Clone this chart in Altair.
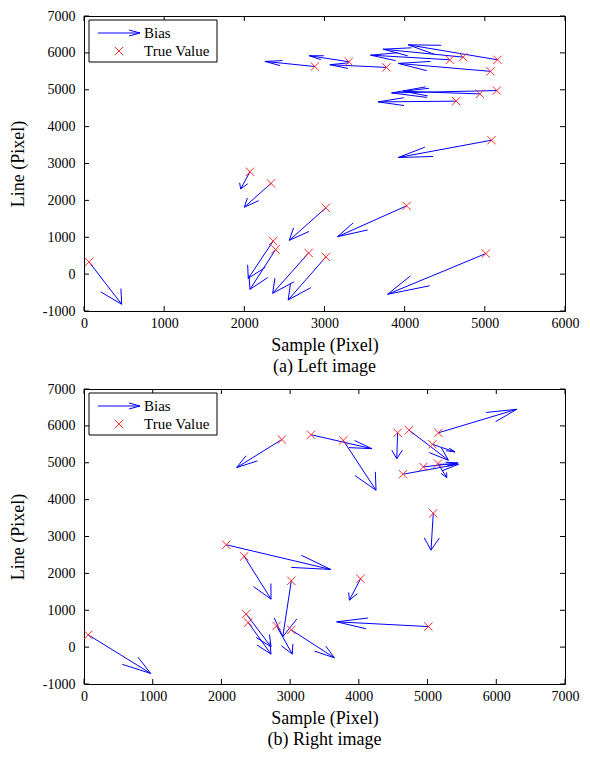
import altair as alt
import pandas as pd

# ---- data ----
true_x = [2880, 3304, 3773, 4564, 4730, 5158, 5071, 5150, 4938, 4642, 5083,
          2332, 2070, 3017, 2360, 2390, 2802, 3017, 62, 4024, 5012]
true_y = [5630, 5760, 5606, 5813, 5884, 5813, 5499, 4978, 4887, 4690, 3631,
          2461, 2776, 1798, 898, 666, 574, 466, 332, 1852, 558]

left_end_x = [2257, 2810, 3067, 3575, 3732, 4044, 3919, 3837, 3982, 3670, 3919,
              1999, 1954, 2560, 2049, 2070, 2353, 2547, 470, 3163, 3787]
left_end_y = [5768, 5922, 5679, 5938, 6100, 6218, 5714, 4914, 4960, 4671, 3162,
              1814, 2310, 916, -116, -412, -520, -701, -817, 1016, -547]

right_end_x = [2223, 4188, 4250, 4552, 5303, 6298, 5400, 5279, 5439, 5450, 5050,
               2722, 3591, 2892, 2722, 2722, 3032, 3644, 970, 3862, 3678]
right_end_y = [4870, 5382, 4255, 5108, 5068, 6450, 5293, 4599, 4995, 4960, 2629,
               1301, 2106, 279, 8, -190, -190, -290, -713, 1274, 686]

x_ticks_left = [0, 1000, 2000, 3000, 4000, 5000, 6000]
x_ticks_right = [0, 1000, 2000, 3000, 4000, 5000, 6000, 7000]
y_ticks = [-1000, 0, 1000, 2000, 3000, 4000, 5000, 6000, 7000]

FONT = "Liberation Serif"
BLUE = "#0000ff"
RED = "#ff2a2a"
XPATH = "M-1,-1L1,1M-1,1L1,-1"
W = 481
H = 295


def segments(ex, ey):
    # quiver-style arrows: shaft + two head barbs (computed in data units)
    alpha, beta = 0.33, 0.33
    rows = []
    for x, y, x1, y1 in zip(true_x, true_y, ex, ey):
        u, v = x1 - x, y1 - y
        rows.append(dict(x=x, y=y, x2=x1, y2=y1))
        rows.append(dict(x=x1, y=y1,
                         x2=x1 - alpha * (u + beta * v),
                         y2=y1 - alpha * (v - beta * u)))
        rows.append(dict(x=x1, y=y1,
                         x2=x1 - alpha * (u - beta * v),
                         y2=y1 - alpha * (v + beta * u)))
    return pd.DataFrame(rows)


def panel(ex, ey, xmax, xticks, title):
    seg = segments(ex, ey)
    pts = pd.DataFrame({"x": true_x, "y": true_y})
    xs = alt.Scale(domain=[0, xmax], nice=False, zero=False)
    ys = alt.Scale(domain=[-1000, 7000], nice=False, zero=False)
    xaxis = alt.Axis(values=xticks, labelExpr="'' + datum.value",
                     title="Sample (Pixel)", labelPadding=5, titlePadding=6)
    yaxis = alt.Axis(values=y_ticks, labelExpr="'' + datum.value",
                     title="Line (Pixel)", labelPadding=9, titlePadding=15)
    X = alt.X("x:Q", scale=xs, axis=xaxis)
    Y = alt.Y("y:Q", scale=ys, axis=yaxis)

    arrows = alt.Chart(seg).mark_rule(color=BLUE, strokeWidth=1).encode(
        x=X, y=Y, x2="x2:Q", y2="y2:Q")
    crosses = alt.Chart(pts).mark_point(
        shape=XPATH, size=70, color=RED, filled=False, strokeWidth=1, opacity=1
    ).encode(x=X, y=Y)

    xt = pd.DataFrame({"x": xticks})
    yt = pd.DataFrame({"y": y_ticks})
    tb = alt.Chart(xt).mark_rule(color="black").encode(
        x=X, y=alt.value(H), y2=alt.value(H - 5))
    tt = alt.Chart(xt).mark_rule(color="black").encode(
        x=X, y=alt.value(0), y2=alt.value(5))
    tl = alt.Chart(yt).mark_rule(color="black").encode(
        y=Y, x=alt.value(0), x2=alt.value(5))
    tr = alt.Chart(yt).mark_rule(color="black").encode(
        y=Y, x=alt.value(W - 5), x2=alt.value(W))

    one = pd.DataFrame({"k": [0]})
    box = alt.Chart(one).mark_rect(fill="white", stroke="black", strokeWidth=1).encode(
        x=alt.value(5), x2=alt.value(133), y=alt.value(4), y2=alt.value(46))
    l1 = alt.Chart(one).mark_rule(color=BLUE).encode(
        x=alt.value(14), x2=alt.value(56), y=alt.value(17), y2=alt.value(17))
    l2 = alt.Chart(one).mark_rule(color=BLUE).encode(
        x=alt.value(56), x2=alt.value(45), y=alt.value(17), y2=alt.value(14))
    l3 = alt.Chart(one).mark_rule(color=BLUE).encode(
        x=alt.value(56), x2=alt.value(45), y=alt.value(17), y2=alt.value(20))
    lx = alt.Chart(one).mark_point(
        shape=XPATH, size=70, color=RED, filled=False, strokeWidth=1, opacity=1
    ).encode(x=alt.value(35), y=alt.value(35))
    t1 = alt.Chart(one).mark_text(font=FONT, fontSize=15, align="left",
                                  baseline="middle", color="black").encode(
        x=alt.value(60), y=alt.value(17), text=alt.value("Bias"))
    t2 = alt.Chart(one).mark_text(font=FONT, fontSize=15, align="left",
                                  baseline="middle", color="black").encode(
        x=alt.value(60), y=alt.value(35), text=alt.value("True Value"))

    return alt.layer(arrows, crosses, tb, tt, tl, tr, box, l1, l2, l3, lx, t1, t2).properties(
        width=W, height=H,
        title=alt.TitleParams(text=title, orient="bottom", font=FONT, fontSize=18,
                              fontWeight="normal", color="black", offset=4,
                              anchor="middle"))


top = panel(left_end_x, left_end_y, 6000, x_ticks_left, "(a) Left image")
bottom = panel(right_end_x, right_end_y, 7000, x_ticks_right, "(b) Right image")

chart = alt.vconcat(top, bottom, spacing=4).resolve_scale(
    x="independent", y="independent"
).properties(
    padding={"left": 0, "top": 0, "right": 0, "bottom": 0}
).configure_view(
    stroke="black", strokeWidth=1
).configure_axis(
    domain=False, ticks=False, grid=False,
    labelFont=FONT, labelFontSize=14, labelColor="black",
    titleFont=FONT, titleFontSize=18, titleFontWeight="normal", titleColor="black",
    labelFlush=False, labelOverlap=False
)

chart.save("out.html", embed_options={"renderer": "svg", "actions": False})
